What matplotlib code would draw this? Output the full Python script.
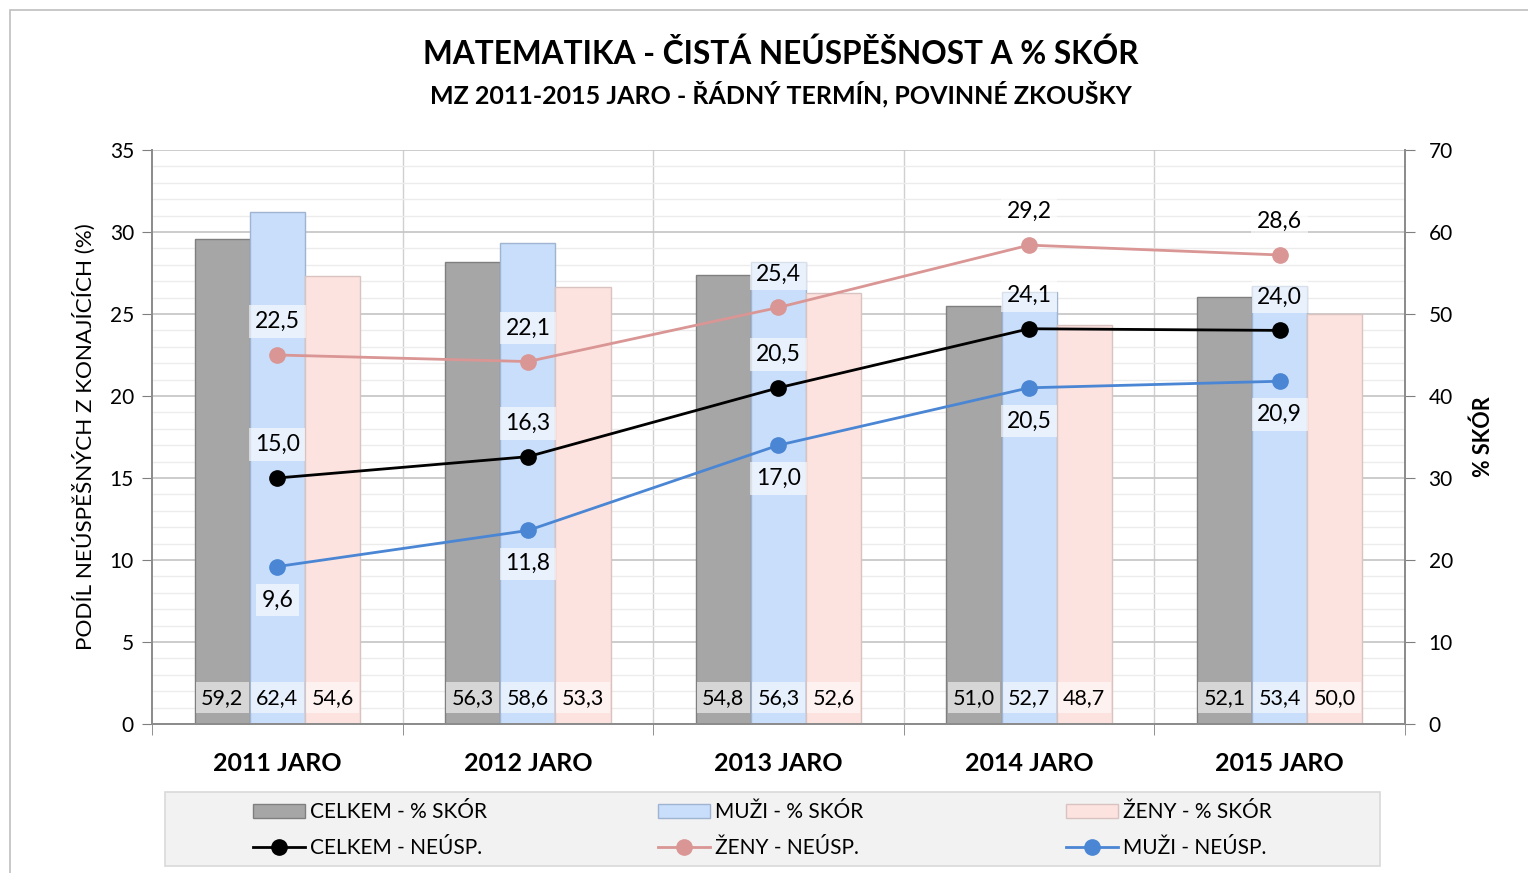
import matplotlib
matplotlib.use("Agg")
import matplotlib.pyplot as plt
import numpy as np
from matplotlib.patches import Rectangle, Patch
from matplotlib.lines import Line2D

plt.rcParams['font.family'] = ['Lato', 'DejaVu Sans']

categories = ["2011 JARO", "2012 JARO", "2013 JARO", "2014 JARO", "2015 JARO"]
celkem_skor = [59.2, 56.3, 54.8, 51.0, 52.1]
muzi_skor = [62.4, 58.6, 56.3, 52.7, 53.4]
zeny_skor = [54.6, 53.3, 52.6, 48.7, 50.0]
celkem_neusp = [15.0, 16.3, 20.5, 24.1, 24.0]
zeny_neusp = [22.5, 22.1, 25.4, 29.2, 28.6]
muzi_neusp = [9.6, 11.8, 17.0, 20.5, 20.9]

def fmt(v):
    return f"{v:.1f}".replace(".", ",")

W, H = 1528, 873
fig = plt.figure(figsize=(W / 100, H / 100), dpi=100)
fig.patch.set_facecolor("white")
fig.patches.append(Rectangle((10 / W, -0.1), 1.2, 1.1 - 10 / H, transform=fig.transFigure,
                             fill=False, edgecolor="#bfbfbf", linewidth=1.2, zorder=0))

left, right, top, bottom = 152, 1405, 150, 724
ax = fig.add_axes([left / W, 1 - bottom / H, (right - left) / W, (bottom - top) / H])
axl = ax.twinx()

x = np.arange(len(categories))
bw = 0.22
bar_colors = ["#a6a6a6", "#c9defa", "#fde3df"]
edge_colors = ["#7f7f7f", "#9fb4d0", "#d8c3c0"]
series = [celkem_skor, muzi_skor, zeny_skor]
for i, (vals, c, ec) in enumerate(zip(series, bar_colors, edge_colors)):
    xs = x + (i - 1) * bw
    ax.bar(xs, vals, width=bw, color=c, edgecolor=ec, linewidth=1.0, zorder=2)
    for xx, v in zip(xs, vals):
        ax.text(xx, 3.2, fmt(v), ha="center", va="center", fontsize=15.5, zorder=5,
                bbox=dict(boxstyle="square,pad=0.25", facecolor="white", alpha=0.55, edgecolor="none"))

ax.set_xlim(-0.5, len(categories) - 0.5)
ax.set_ylim(0, 70)
ax.set_yticks(np.arange(0, 71, 10))
ax.set_yticks(np.arange(0, 71, 2), minor=True)
ax.yaxis.tick_right()
ax.yaxis.set_label_position("right")
ax.set_ylabel("% SKÓR", fontsize=15.5, fontweight="bold", labelpad=14)
ax.grid(axis="y", which="major", color="#c8c8c8", linewidth=1.3, zorder=0)
ax.grid(axis="y", which="minor", color="#ececec", linewidth=1.0, zorder=0)
ax.set_axisbelow(True)
for b in np.arange(0.5, len(categories) - 0.5, 1):
    ax.axvline(b, color="#d0d0d0", linewidth=1.0, zorder=0)
ax.set_xticks(x)
ax.set_xticklabels(categories, fontsize=18, fontweight="bold")
ax.set_xticks(np.arange(-0.5, len(categories), 1), minor=True)
ax.tick_params(axis="x", which="major", length=0, pad=20)
ax.tick_params(axis="x", which="minor", length=8, color="#7f7f7f", direction="out")
ax.tick_params(axis="y", which="major", labelsize=15, length=7, color="#7f7f7f", direction="out", pad=10)
ax.tick_params(axis="y", which="minor", length=0)

axl.yaxis.tick_left()
axl.yaxis.set_label_position("left")
axl.set_ylim(0, 35)
axl.set_yticks(np.arange(0, 36, 5))
axl.tick_params(axis="y", labelsize=15, length=7, color="#7f7f7f", direction="out", pad=6)
axl.set_ylabel("PODÍL NEÚSPĚŠNÝCH Z KONAJÍCÍCH (%)", fontsize=16.2, labelpad=10)

for a in (ax, axl):
    a.spines["top"].set_visible(False)
    for s in ("left", "right", "bottom"):
        a.spines[s].set_color("#8c8c8c")
        a.spines[s].set_linewidth(1.3)

line_specs = [
    (zeny_neusp, "#d99694", "#d99694", [1, 1, 1, 1, 1]),
    (celkem_neusp, "black", "black", [1, 1, 1, 1, 1]),
    (muzi_neusp, "#4a86d4", "#4a86d4", [-1, -1, -1, -1, -1]),
]
for vals, lc, mc, dirs in line_specs:
    axl.plot(x, vals, color=lc, linewidth=2, marker="o", markersize=11,
             markerfacecolor=mc, markeredgecolor=lc, zorder=4)
    for xx, v, d in zip(x, vals, dirs):
        axl.annotate(fmt(v), (xx, v), xytext=(0, 24 * d), textcoords="offset points",
                     ha="center", va="center", fontsize=16.5, zorder=6,
                     bbox=dict(boxstyle="square,pad=0.25", facecolor="white", alpha=0.6, edgecolor="none"))

fig.text(781 / W, 1 - 54 / H, "MATEMATIKA - ČISTÁ NEÚSPĚŠNOST A % SKÓR", ha="center", va="center",
         fontsize=22.8, fontweight="bold")
fig.text(781 / W, 1 - 94 / H, "MZ 2011-2015 JARO - ŘÁDNÝ TERMÍN, POVINNÉ ZKOUŠKY", ha="center", va="center",
         fontsize=18, fontweight="bold")

# legend background
fig.patches.append(Rectangle((165 / W, 1 - 866 / H), (1380 - 165) / W, (866 - 792) / H,
                             transform=fig.transFigure, facecolor="#f2f2f2", edgecolor="#d9d9d9",
                             linewidth=1.2, zorder=1))

legend_cols = [
    [Patch(facecolor=bar_colors[0], edgecolor=edge_colors[0], label="CELKEM - % SKÓR"),
     Line2D([], [], color="black", marker="o", markersize=11, linewidth=2, label="CELKEM - NEÚSP.")],
    [Patch(facecolor=bar_colors[1], edgecolor=edge_colors[1], label="MUŽI - % SKÓR"),
     Line2D([], [], color="#d99694", marker="o", markersize=11, linewidth=2, label="ŽENY - NEÚSP.")],
    [Patch(facecolor=bar_colors[2], edgecolor=edge_colors[2], label="ŽENY - % SKÓR"),
     Line2D([], [], color="#4a86d4", marker="o", markersize=11, linewidth=2, label="MUŽI - NEÚSP.")],
]
for hx, hs in zip([253, 658, 1066], legend_cols):
    lg = fig.legend(handles=hs, loc="center left", bbox_to_anchor=(hx / W, 1 - 830 / H),
                    fontsize=15, frameon=False, borderpad=0, borderaxespad=0,
                    handlelength=2.5, handletextpad=0.25, labelspacing=0.75)
    lg.set_zorder(3)

fig.savefig("out.png", dpi=100)
